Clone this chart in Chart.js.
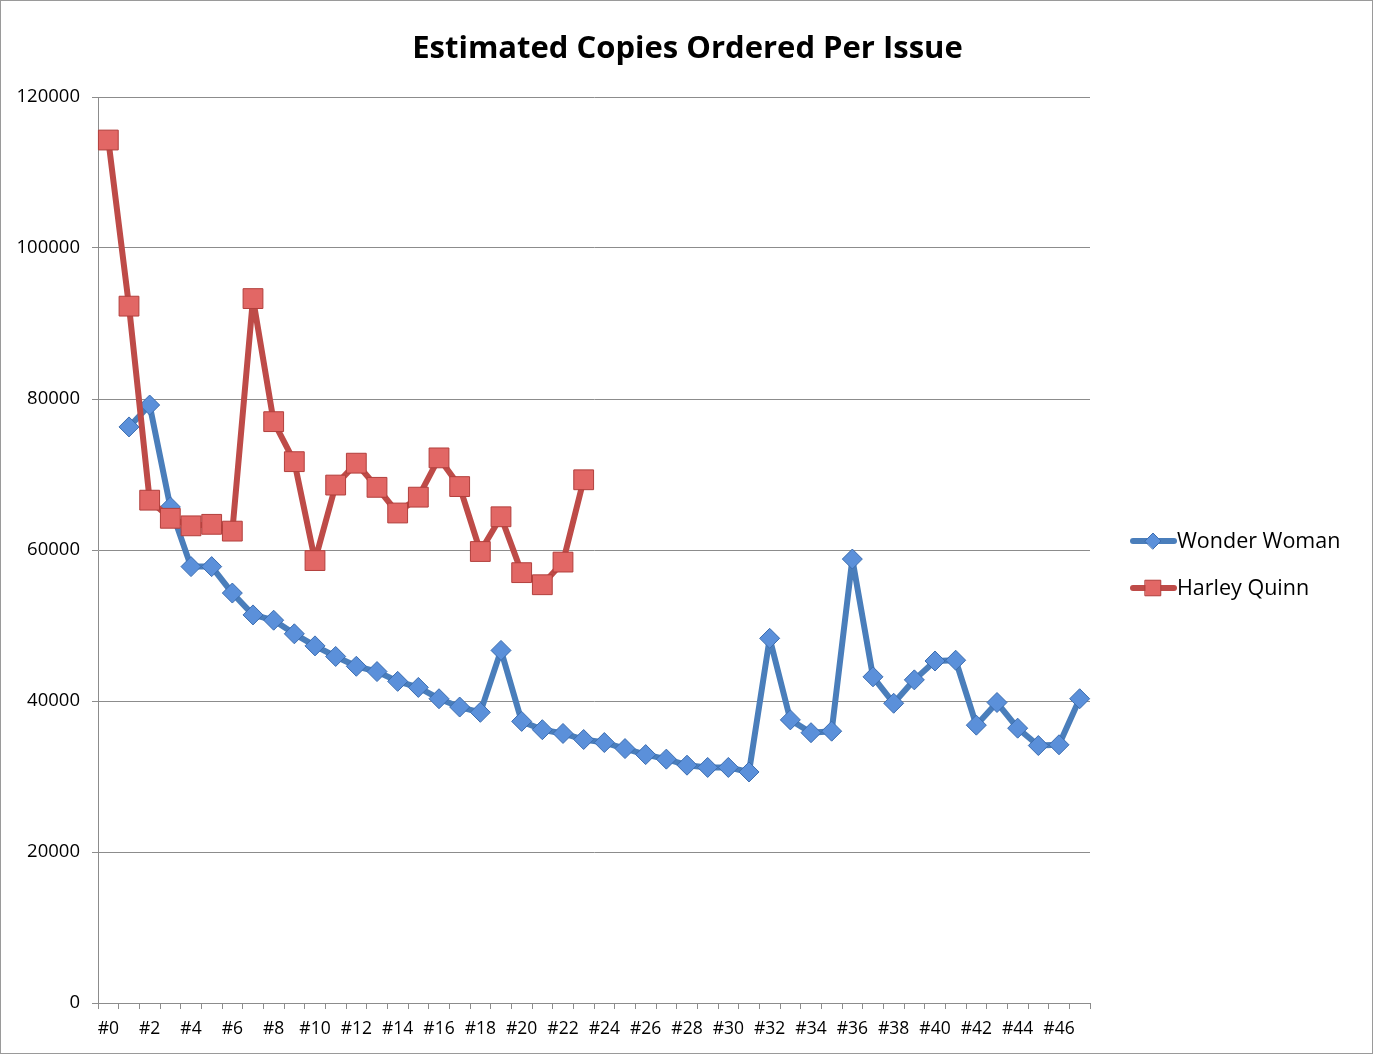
<!DOCTYPE html>
<html>
<head>
<meta charset="utf-8">
<style>
  html, body { margin: 0; padding: 0; background: #fff; }
  #wrap { width: 1375px; height: 1057px; }
</style>
<script src="https://cdn.jsdelivr.net/npm/chart.js@4.4.1/dist/chart.umd.min.js"></script>
</head>
<body>
<div id="wrap"><canvas id="chart"></canvas></div>
<script>
// issue numbers #0 .. #47
const issues = Array.from({ length: 48 }, (_, i) => '#' + i);

const wonderWoman = [
  null, 76300, 79200, 65700, 57800, 57800, 54300, 51400, 50700, 48900,
  47300, 45900, 44600, 43900, 42600, 41800, 40300, 39200, 38500, 46700,
  37300, 36200, 35700, 34900, 34500, 33700, 32900, 32300, 31500, 31200,
  31200, 30600, 48300, 37500, 35800, 36000, 58800, 43200, 39700, 42800,
  45300, 45400, 36800, 39800, 36400, 34100, 34200, 40300
];

const harleyQuinn = [
  114300, 92300, 66600, 64200, 63200, 63400, 62500, 93300, 77000, 71700,
  58600, 68600, 71500, 68300, 64900, 67000, 72200, 68400, 59800, 64400,
  57000, 55400, 58400, 69300
];

const yTicks = [0, 20000, 40000, 60000, 80000, 100000, 120000];

const FONT = "'Open Sans', 'Liberation Sans', sans-serif";
const GRID = '#8c8c8c';

const series = [
  { label: 'Wonder Woman', data: wonderWoman, line: '#4a7ebb', fill: '#5b90da', edge: '#3c6db0', style: 'rectRot', radius: 10, order: 2 },
  { label: 'Harley Quinn', data: harleyQuinn, line: '#be4b48', fill: '#e26765', edge: '#b23f3c', style: 'rect', radius: 14, order: 1 }
];

// white background + thin frame round the picture, title and a legend with line+marker
const decor = {
  id: 'decor',
  beforeDraw(chart) {
    const ctx = chart.ctx;
    ctx.save();
    ctx.fillStyle = '#fff';
    ctx.fillRect(0, 0, chart.width, chart.height);
    ctx.strokeStyle = '#9a9a9a';
    ctx.lineWidth = 1;
    ctx.strokeRect(0.5, 0.5, chart.width - 3, chart.height - 4);
    ctx.restore();
  },
  afterDraw(chart) {
    const ctx = chart.ctx;
    ctx.save();
    ctx.fillStyle = '#000';
    ctx.textAlign = 'center';
    ctx.textBaseline = 'middle';
    ctx.font = 'bold 31px ' + FONT;
    ctx.fillText('Estimated Copies Ordered Per Issue', chart.width / 2, 49);

    series.forEach((s, i) => {
      const y = 541 + i * 47;
      ctx.strokeStyle = s.line;
      ctx.lineWidth = 6;
      ctx.lineCap = 'round';
      ctx.beginPath();
      ctx.moveTo(1133, y);
      ctx.lineTo(1174, y);
      ctx.stroke();
      ctx.fillStyle = s.fill;
      ctx.strokeStyle = s.edge;
      ctx.lineWidth = 1;
      Chart.helpers.drawPoint(ctx, { pointStyle: s.style, radius: s.style === 'rect' ? 11 : 8, rotation: 0, borderWidth: 1 }, 1153, y);
      ctx.fillStyle = '#000';
      ctx.textAlign = 'left';
      ctx.font = '21.5px ' + FONT;
      ctx.fillText(s.label, 1177, y + 1);
    });
    ctx.restore();
  }
};

new Chart(document.getElementById('chart'), {
  type: 'line',
  data: {
    labels: issues,
    datasets: series.map((s) => ({
      label: s.label,
      data: s.data,
      order: s.order,
      borderColor: s.line,
      borderWidth: 6,
      borderJoinStyle: 'round',
      borderCapStyle: 'round',
      pointStyle: s.style,
      pointRadius: s.radius,
      pointBackgroundColor: s.fill,
      pointBorderColor: s.edge,
      pointBorderWidth: 1,
      tension: 0,
      spanGaps: false
    }))
  },
  options: {
    responsive: true,
    maintainAspectRatio: false,
    animation: false,
    devicePixelRatio: 1,
    layout: { padding: { top: 97, right: 285, left: 0, bottom: 0 } },
    plugins: {
      legend: { display: false },
      title: { display: false },
      tooltip: { enabled: false }
    },
    scales: {
      x: {
        offset: true,
        afterFit: (scale) => { scale.height = 54; },
        grid: { offset: true, drawOnChartArea: false, drawTicks: true, tickLength: 6, color: GRID },
        border: { color: GRID },
        ticks: {
          autoSkip: false,
          maxRotation: 0,
          padding: 10,
          color: '#000',
          font: { family: FONT, size: 17.5 },
          callback: function (value, index) { return index % 2 === 0 ? this.getLabelForValue(value) : ''; }
        }
      },
      y: {
        min: 0,
        max: 120000,
        afterFit: (scale) => { scale.width = 98; },
        afterBuildTicks: (scale) => { scale.ticks = yTicks.map((v) => ({ value: v })); },
        grid: { color: GRID, tickLength: 6 },
        border: { color: GRID },
        ticks: {
          padding: 12,
          color: '#000',
          font: { family: FONT, size: 18.5 },
          callback: (v) => String(v)
        }
      }
    }
  },
  plugins: [decor]
});
</script>
</body>
</html>
